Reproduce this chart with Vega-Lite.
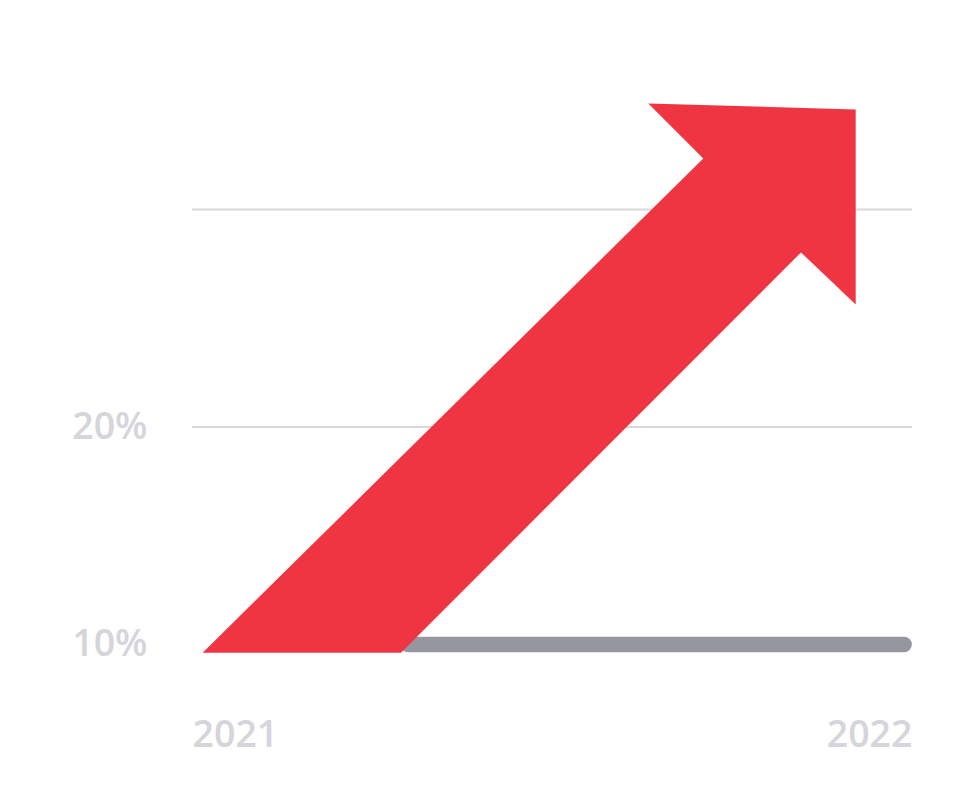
{
  "$schema": "https://vega.github.io/schema/vega-lite/v6.json",
  "width": 720,
  "height": 580,
  "autosize": {"type": "none"},
  "padding": {"left": 192, "top": 100, "right": 42, "bottom": 131},
  "background": "white",
  "config": {
    "view": {"stroke": null},
    "axis": {
      "labelFont": "Open Sans",
      "labelFontWeight": 600,
      "labelFontSize": 37.5,
      "labelColor": "#D5D5DA",
      "grid": false,
      "domain": false,
      "ticks": false,
      "tickSize": 0,
      "title": null
    }
  },
  "layer": [
    {
      "data": {"values": [{"level": 20}, {"level": 30}]},
      "mark": {"type": "rule", "color": "#D7D7DC", "strokeWidth": 2},
      "encoding": {
        "y": {
          "field": "level",
          "type": "quantitative",
          "scale": {"domain": [8.37, 35.04], "nice": false, "zero": false},
          "axis": {
            "values": [10, 20],
            "labelExpr": "datum.value + '%'",
            "labelPadding": 45,
            "labelBaseline": "middle"
          }
        }
      }
    },
    {
      "data": {"values": [{"start": 2021.3, "end": 2021.989, "level": 10}]},
      "mark": {"type": "rule", "color": "#96969E", "strokeWidth": 15.5, "strokeCap": "round"},
      "encoding": {
        "x": {
          "field": "start",
          "type": "quantitative",
          "scale": {"domain": [2021, 2022], "nice": false, "zero": false},
          "axis": {
            "values": [2021, 2022],
            "format": "d",
            "labelFlush": true,
            "labelPadding": 66.7,
            "labelBaseline": "alphabetic"
          }
        },
        "x2": {"field": "end"},
        "y": {"field": "level", "type": "quantitative"}
      }
    },
    {
      "data": {
        "values": [
          {"order": 1, "year": 2021.01486, "value": 9.623},
          {"order": 2, "year": 2021.29028, "value": 9.623},
          {"order": 3, "year": 2021.84583, "value": 28.032},
          {"order": 4, "year": 2021.92181, "value": 25.641},
          {"order": 5, "year": 2021.92181, "value": 34.607},
          {"order": 6, "year": 2021.63375, "value": 34.883},
          {"order": 7, "year": 2021.71014, "value": 32.354}
        ]
      },
      "mark": {"type": "line", "interpolate": "linear-closed", "filled": true, "fill": "#EF3442", "stroke": null, "strokeWidth": 0},
      "encoding": {
        "x": {"field": "year", "type": "quantitative"},
        "y": {"field": "value", "type": "quantitative"},
        "order": {"field": "order", "type": "quantitative"}
      }
    }
  ]
}
